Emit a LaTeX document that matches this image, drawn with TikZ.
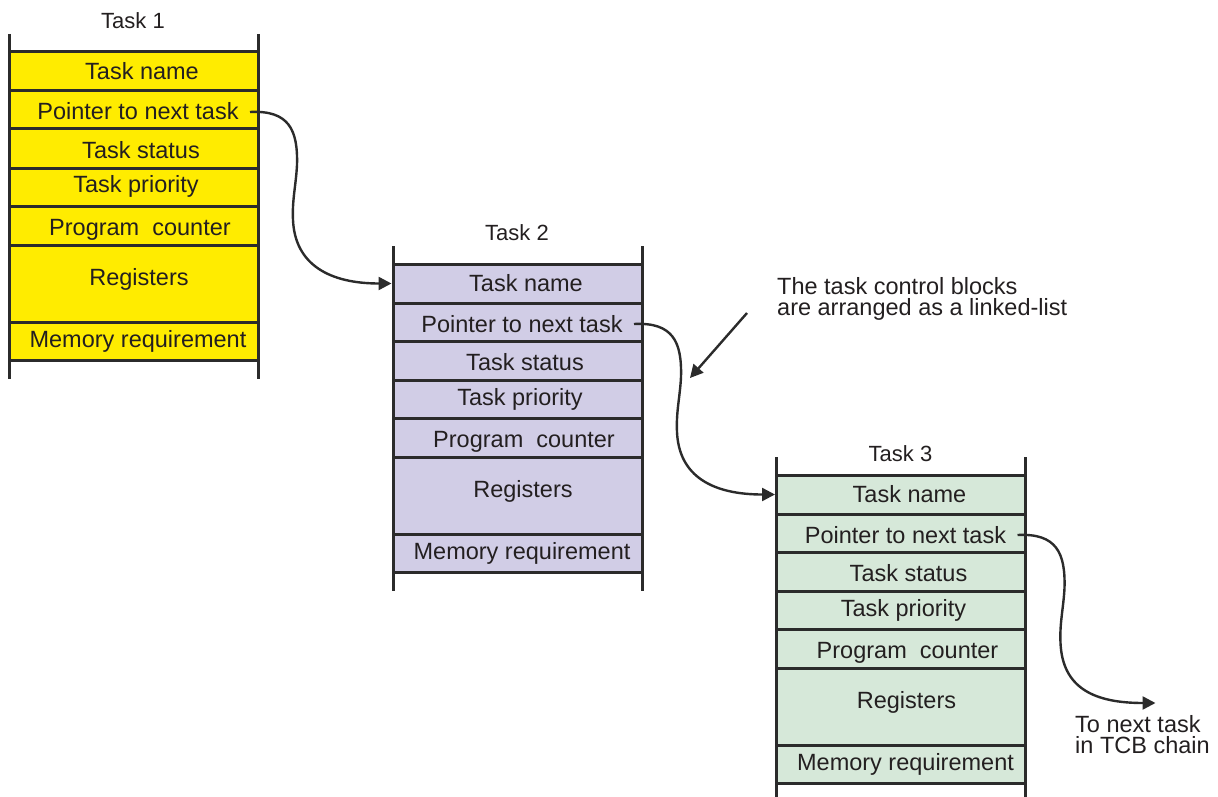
\documentclass[tikz,border=0pt]{standalone}
\usepackage{fontspec}
\setmainfont{Liberation Sans}
\usetikzlibrary{arrows.meta,calc}

\definecolor{ink}{HTML}{231F20}
\definecolor{rule}{HTML}{2B2B2B}
\definecolor{tcbyellow}{RGB}{255,236,0}
\definecolor{tcblilac}{RGB}{209,205,230}
\definecolor{tcbmint}{RGB}{214,232,217}

\tikzset{
  cellbox/.style={draw=rule, line width=3pt, minimum width=249pt, anchor=north west,
                  inner sep=0pt, outer sep=0pt},
  celltext/.style={anchor=base, inner sep=0pt, text=ink,
                   font=\fontsize{23.5}{26}\selectfont},
  tasktitle/.style={anchor=base, inner sep=0pt, text=ink,
                    font=\fontsize{22}{24}\selectfont},
  note/.style={anchor=north west, inner sep=0pt, text=ink, align=left,
               font=\fontsize{23.5}{21.5}\selectfont},
  rail/.style={draw=rule, line width=3pt},
  link/.style={draw=rule, line width=2.4pt,
               -{Triangle[length=13pt,width=13pt]}, shorten >=1.5pt},
}

% One task control block: #1 name, #2/#3 top-left corner, #4 fill,
% #5 title, #6 title baseline offset
\newcommand\taskblock[6]{%
  \begin{scope}[shift={(#2,#3)}]
    \node[cellbox, fill=#4, minimum height=39pt] (#1-name)   at (0,0)   {};
    \node[cellbox, fill=#4, minimum height=38pt] (#1-ptr)    at (0,39)  {};
    \node[cellbox, fill=#4, minimum height=39pt] (#1-status) at (0,77)  {};
    \node[cellbox, fill=#4, minimum height=38pt] (#1-prio)   at (0,116) {};
    \node[cellbox, fill=#4, minimum height=39pt] (#1-pc)     at (0,154) {};
    \node[cellbox, fill=#4, minimum height=77pt] (#1-regs)   at (0,193) {};
    \node[cellbox, fill=#4, minimum height=38pt] (#1-mem)    at (0,270) {};
    \node[celltext] (#1-name-t)   at (133,27.5)  {Task name};
    \node[celltext] (#1-ptr-t)    at (129,68)    {Pointer to next task};
    \node[celltext] (#1-status-t) at (132,106)   {Task status};
    \node[celltext] (#1-prio-t)   at (127,141)   {Task priority};
    \node[celltext] (#1-pc-t)     at (131,183)   {Program\ \ counter};
    \node[celltext] (#1-regs-t)   at (130,233)   {Registers};
    \node[celltext] (#1-mem-t)    at (129,295)   {Memory requirement};
    \draw[rail] (0,-18) -- (0,327);
    \draw[rail] (249,-18) -- (249,327);
    \node[tasktitle] (#1-title) at (124,#6) {#5};
    \coordinate (#1-out) at (241,60);
  \end{scope}}

% S-shaped pointer from a block's pointer field #1 to target #2
\newcommand\pointerlink[2]{%
  \draw[link] (#1)
      .. controls ($(#1)+(39,-2)$) and ($(#1)+(48,18)$) .. ($(#1)+(47,53)$)
      .. controls ($(#1)+(46,73)$) and ($(#1)+(42,88)$) .. ($(#1)+(43,108)$)
      .. controls ($(#1)+(45,153)$) and ($(#2)+(-63,0)$) .. (#2);}

\begin{document}
\begin{tikzpicture}[x=1pt, y=-1pt]
  \useasboundingbox (0,0) rectangle (1218,797);

  \taskblock{t1}{9}{52}{tcbyellow}{Task 1}{-23}
  \taskblock{t2}{393}{264}{tcblilac}{Task 2}{-24}
  \taskblock{t3}{776.5}{475}{tcbmint}{Task 3}{-14}

  % linked-list pointers
  \pointerlink{t1-out}{t2-name.west}
  \pointerlink{t2-out}{t3-name.west}
  \coordinate (chain) at (1157,703);
  \pointerlink{t3-out}{chain}
  \node[note] (chain-label) at (1075,715) {To next task\\in TCB chain};

  % annotation
  \node[note] (remark) at (777,277) {The task control blocks\\are arranged as a linked-list};
  \coordinate (remark-tip) at (690,378);
  \draw[link, shorten >=0pt] ($(remark.north west)+(-30,36)$) -- (remark-tip);
\end{tikzpicture}
\end{document}
